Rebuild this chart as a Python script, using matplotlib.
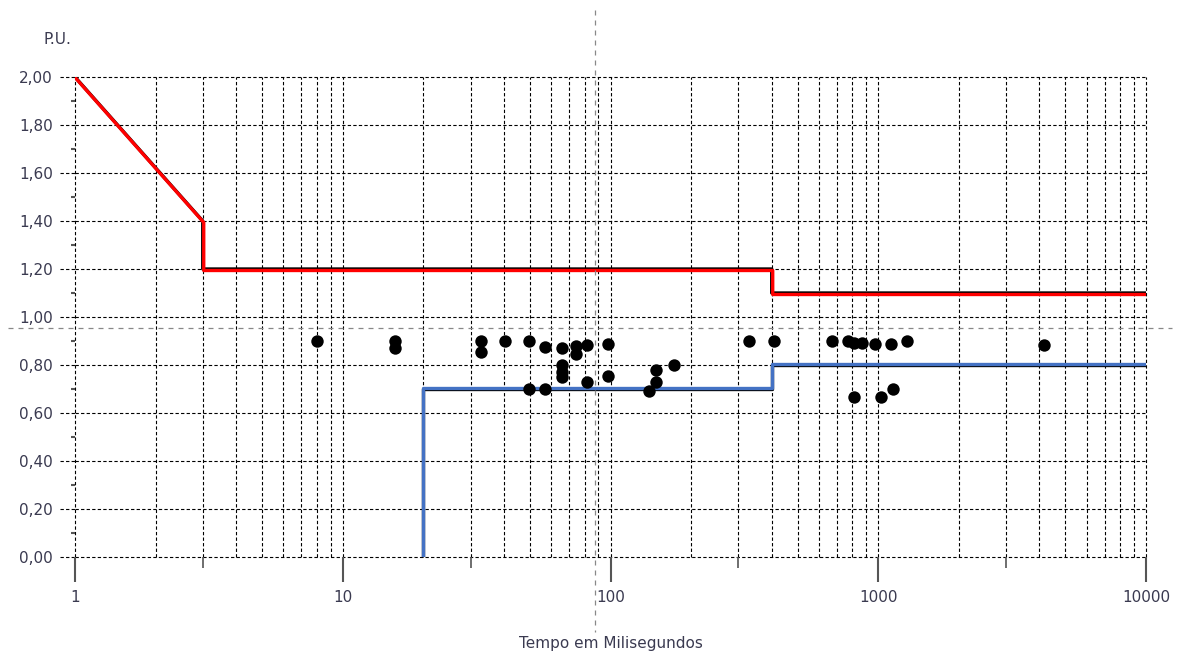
import numpy as np
import matplotlib.pyplot as plt
import matplotlib.transforms as mtransforms
from matplotlib.lines import Line2D
from matplotlib.ticker import FixedLocator, NullFormatter

# upper limit curve (red) and lower limit curve (blue)
upper_t = [1, 3, 3, 400, 400, 10000]
upper_pu = [2.0, 1.4, 1.2, 1.2, 1.1, 1.1]
lower_t = [20, 20, 400, 400, 10000]
lower_pu = [0.0, 0.7, 0.7, 0.8, 0.8]

# measured events
event_t = [8, 15.7, 15.7, 32.8, 32.8, 40.4, 49.6, 49.6, 57, 57, 66, 66, 66, 66,
           74.3, 74.3, 81.7, 81.7, 98, 98, 139, 148, 148, 173,
           329, 408, 671, 771, 811, 869, 973, 1116, 1280, 811, 1024, 1136, 4160]
event_pu = [0.90, 0.90, 0.87, 0.90, 0.855, 0.90, 0.90, 0.70, 0.875, 0.70, 0.87, 0.80, 0.77, 0.75,
            0.88, 0.845, 0.883, 0.73, 0.887, 0.755, 0.69, 0.78, 0.73, 0.80,
            0.90, 0.90, 0.90, 0.90, 0.89, 0.89, 0.887, 0.887, 0.90, 0.667, 0.667, 0.70, 0.883]

y_major = [0.0, 0.2, 0.4, 0.6, 0.8, 1.0, 1.2, 1.4, 1.6, 1.8, 2.0]
x_major = [1, 10, 100, 1000, 10000]
x_labels = ['1', '10', '100', '1000', '10000']

fig = plt.figure(figsize=(11.81, 6.57), dpi=100)
ax = fig.add_axes([0.0635, 0.1522, 0.9069, 0.7306])
ax.set_xscale('log')
ax.set_xlim(1, 10000)
ax.set_ylim(0, 2.0)

grid_style = dict(color='black', lw=0.8, linestyle=(0, (3, 2)), zorder=1, clip_on=False)
for decade in [1, 10, 100, 1000]:
    for k in range(1, 10):
        ax.axvline(decade * k, **grid_style)
ax.axvline(10000, **grid_style)
for y in y_major:
    ax.axhline(y, **grid_style)
    ax.plot([-0.014, 0], [y, y], transform=ax.get_yaxis_transform(), **grid_style)

for s in ax.spines.values():
    s.set_visible(False)

ax.xaxis.set_major_locator(FixedLocator(x_major))
ax.set_xticklabels(x_labels)
ax.xaxis.set_minor_locator(FixedLocator([3, 30, 300, 3000]))
ax.xaxis.set_minor_formatter(NullFormatter())
ax.tick_params(axis='x', which='major', length=18, width=1.5, color='#555555',
               labelsize=11, labelcolor='#3a3a50', pad=6)
ax.tick_params(axis='x', which='minor', length=8, width=1.2, color='#555555')

ax.set_yticks(y_major)
ax.set_yticklabels([f'{v:.2f}'.replace('.', ',') for v in y_major])
ax.yaxis.set_minor_locator(FixedLocator(np.arange(0.1, 2.0, 0.2)))
ax.tick_params(axis='y', which='major', length=0, labelsize=11,
               labelcolor='#3a3a50', pad=16)
ax.tick_params(axis='y', which='minor', length=3, width=1.5, color='#555555')

# black outline under coloured curves
ax.plot(upper_t, upper_pu, color='black', lw=2.4, zorder=3)
ax.plot(lower_t, lower_pu, color='black', lw=2.4, zorder=3)
red_tr = mtransforms.offset_copy(ax.transData, fig=fig, x=1, y=-1.5, units='dots')
blue_tr = mtransforms.offset_copy(ax.transData, fig=fig, x=0, y=1.5, units='dots')
ax.plot(upper_t, upper_pu, color='#ff0000', lw=2.4, zorder=4, transform=red_tr)
ax.plot(lower_t, lower_pu, color='#4472c4', lw=2.4, zorder=4, transform=blue_tr)

ax.scatter(event_t, event_pu, s=80, color='black', zorder=5, linewidths=0)

ax.set_xlabel('Tempo em Milisegundos', fontsize=11, color='#3a3a50', labelpad=22)
fig.text(57 / 1181, 1 - 40 / 657, 'P.U.', fontsize=11, color='#3a3a50',
         ha='center', va='center')

# cursor crosshair
cross_style = dict(color='#888888', lw=0.9, linestyle=(0, (4, 4)), zorder=6)
fig.add_artist(Line2D([595 / 1181, 595 / 1181], [1 - 10 / 657, 1 - 632 / 657],
                      transform=fig.transFigure, **cross_style))
fig.add_artist(Line2D([8 / 1181, 1172 / 1181], [1 - 328 / 657, 1 - 328 / 657],
                      transform=fig.transFigure, **cross_style))

fig.savefig('out.png', dpi=100)
